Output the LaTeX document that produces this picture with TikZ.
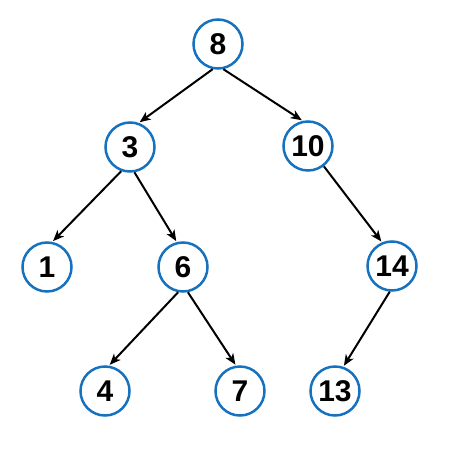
\documentclass[tikz,border=0pt]{standalone}
\usepackage{fontspec}
\setmainfont{Liberation Sans}
\usetikzlibrary{arrows.meta}
\definecolor{nodeblue}{RGB}{22,114,190}
\begin{document}
\begin{tikzpicture}[x=1pt,y=1pt,
  treenode/.style={circle,draw=nodeblue,line width=2.5pt,minimum size=49pt,inner sep=0pt,
    font=\fontsize{30}{32}\selectfont\bfseries},
  edge/.style={line width=2pt,-{Stealth[length=11pt,width=9pt,inset=3pt]},shorten >=1pt}]
\useasboundingbox (0,0) rectangle (450,-455);
\node[treenode] (n8)  at (218,-44)  {8};
\node[treenode] (n3)  at (130,-147) {3};
\node[treenode] (n10) at (308,-146) {10};
\node[treenode] (n1)  at (47,-267)  {1};
\node[treenode] (n6)  at (183,-267) {6};
\node[treenode] (n14) at (392,-266) {14};
\node[treenode] (n4)  at (105,-391) {4};
\node[treenode] (n7)  at (240,-391) {7};
\node[treenode] (n13) at (335,-391) {13};
\draw[edge] (n8.258) -- (n3.70);
\draw[edge] (n8.282) -- (n10.102);
\draw[edge] (n3.250) -- (n1.78);
\draw[edge] (n3.280) -- (n6.104);
\draw[edge] (n10.-52) -- (n14.113);
\draw[edge] (n14.265) -- (n13.71);
\draw[edge] (n6.259) -- (n4.81);
\draw[edge] (n6.281) -- (n7.99);
\end{tikzpicture}
\end{document}
